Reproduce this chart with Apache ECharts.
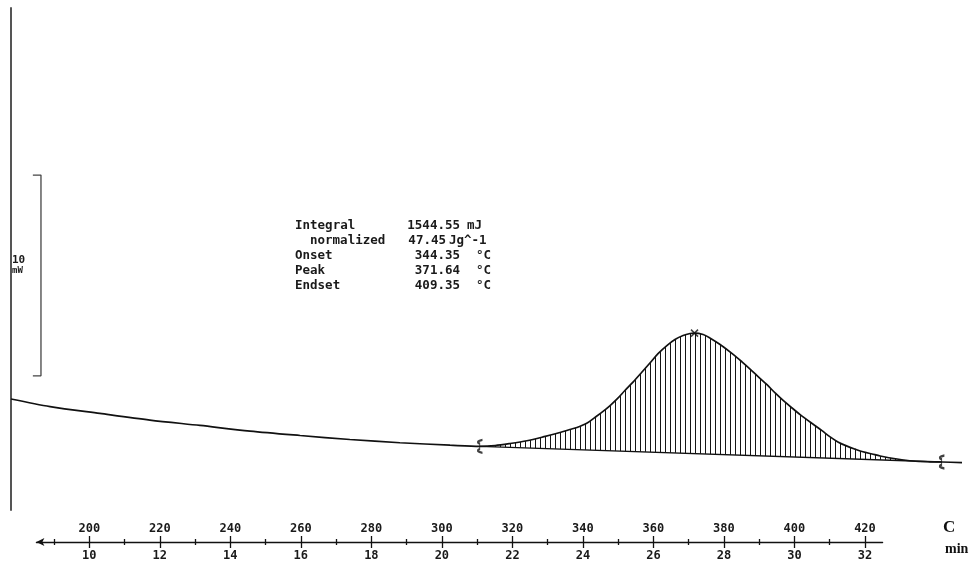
<!DOCTYPE html>
<html>
<head>
<meta charset="utf-8">
<script src="https://cdn.jsdelivr.net/npm/echarts@6/dist/echarts.min.js"></script>
<style>
  html, body { margin: 0; padding: 0; background: #fff; }
  #chart { width: 973px; height: 567px; }
</style>
</head>
<body>
<div id="chart"></div>
<script>
// DSC heating run: sample temperature (°C) against heat flow (mW, relative offset)
const temperature = [
  177.8, 188.9, 203.0, 217.2, 231.4, 245.6, 259.8, 273.9, 288.1, 302.3,
  310.8, 315.1, 319.3, 324.1, 328.7, 333.5, 336.3, 338.3, 341.2, 343.4,
  345.7, 347.7, 349.7, 351.9, 354.2, 356.5, 359.0, 361.3, 363.8, 366.1,
  368.4, 370.4, 371.6, 374.1, 376.0, 378.9, 382.6, 385.1, 387.4, 389.6,
  392.2, 394.5, 396.7, 399.3, 401.6, 405.2, 407.8, 410.1, 412.3, 414.9,
  417.2, 419.4, 422.0, 424.3, 429.1, 433.6, 438.4, 441.8, 447.5
];
const heatFlow = [
  3.13, 2.75, 2.41, 2.08, 1.81, 1.53, 1.31, 1.11, 0.95, 0.83,
  0.77, 0.81, 0.91, 1.05, 1.24, 1.46, 1.61, 1.71, 1.93, 2.21,
  2.51, 2.80, 3.13, 3.55, 3.97, 4.42, 4.92, 5.39, 5.79, 6.09,
  6.29, 6.39, 6.41, 6.34, 6.17, 5.84, 5.35, 4.98, 4.62, 4.26,
  3.84, 3.43, 3.07, 2.68, 2.35, 1.88, 1.55, 1.24, 0.99, 0.78,
  0.63, 0.50, 0.39, 0.29, 0.14, 0.04, 0.00, -0.01, -0.04
];

// Integration limits (straight baseline between them)
const baselineT = [310.8, 441.8];
const baselineQ = [0.77, -0.01];

// Peak maximum
const peakT = 371.64;
const peakQ = 6.41;

// 10 mW scale bar
const scaleBarT = [184.0, 186.3, 186.3, 184.0];
const scaleBarQ = [14.28, 14.28, 4.28, 4.28];

// Axis ticks: temperature above the line, elapsed time below
const tempTicks = [200, 220, 240, 260, 280, 300, 320, 340, 360, 380, 400, 420];
const tempMinor = [190, 210, 230, 250, 270, 290, 310, 330, 350, 370, 390, 410];
const minuteTicks = [10, 12, 14, 16, 18, 20, 22, 24, 26, 28, 30, 32];
const minuteMinor = [9, 11, 13, 15, 17, 19, 21, 23, 25, 27, 29, 31];

// Evaluation results
const resultNames = ['Integral', 'normalized', 'Onset', 'Peak', 'Endset'];
const resultValues = ['1544.55', '47.45', '344.35', '371.64', '409.35'];
const resultUnits = ['mJ', 'Jg^-1', '°C', '°C', '°C'];

const curve = temperature.map((t, i) => [t, heatFlow[i]]);
const peakRegion = curve.filter(p => p[0] >= baselineT[0] && p[0] <= baselineT[1]);
const baseline = baselineT.map((t, i) => [t, baselineQ[i]]);
const scaleBar = scaleBarT.map((t, i) => [t, scaleBarQ[i]]);

// vertical hatching used to shade the integrated area
const hatch = document.createElement('canvas');
hatch.width = 5; hatch.height = 4;
const hctx = hatch.getContext('2d');
hctx.fillStyle = '#151515';
hctx.fillRect(0, 0, 1, 4);

const mono = '"DejaVu Sans Mono", "Liberation Mono", monospace';
const ink = '#111';
const smooth = 0.3;
const tickLine = { color: ink, width: 1.3 };
const labelFont = { color: '#1a1a1a', fontFamily: mono, fontWeight: 'bold', fontSize: 12 };
const boxFont = 'bold 12.5px ' + mono;

const chart = echarts.init(document.getElementById('chart'), null, { renderer: 'canvas' });

const nameX = [295, 310, 295, 295, 295];
const valueRight = [460, 446, 460, 460, 460];
const unitX = [467, 449, 476, 476, 476];
const rowY = [226, 241, 256, 271, 286];

const graphics = [];
resultNames.forEach((n, i) => {
  graphics.push({ type: 'text', x: nameX[i], y: rowY[i],
    style: { text: n, font: boxFont, fill: '#1a1a1a', align: 'left', verticalAlign: 'middle' } });
  graphics.push({ type: 'text', x: valueRight[i], y: rowY[i],
    style: { text: resultValues[i], font: boxFont, fill: '#1a1a1a', align: 'right', verticalAlign: 'middle' } });
  graphics.push({ type: 'text', x: unitX[i], y: rowY[i],
    style: { text: resultUnits[i], font: boxFont, fill: '#1a1a1a', align: 'left', verticalAlign: 'middle' } });
});
graphics.push({ type: 'text', x: 12, y: 260,
  style: { text: '10', font: 'bold 11px ' + mono, fill: '#1a1a1a', verticalAlign: 'middle' } });
graphics.push({ type: 'text', x: 12, y: 271,
  style: { text: 'mW', font: 'bold 9px ' + mono, fill: '#1a1a1a', verticalAlign: 'middle' } });
graphics.push({ type: 'text', x: 943, y: 528,
  style: { text: 'C', font: 'bold 17px "Liberation Serif", serif', fill: '#111', verticalAlign: 'middle' } });
graphics.push({ type: 'text', x: 945, y: 549,
  style: { text: 'min', font: 'bold 14px "Liberation Serif", serif', fill: '#111', verticalAlign: 'middle' } });

const option = {
  animation: false,
  backgroundColor: '#fff',
  grid: [
    { left: 11, top: 8, width: 951, height: 502 },
    { left: 36.4, top: 542, width: 846.2, height: 0 }
  ],
  xAxis: [
    { gridIndex: 0, type: 'value', min: 177.8, max: 447.5, show: false },
    {
      gridIndex: 1, type: 'value', position: 'top', min: 185, max: 425,
      axisLine: { show: true, onZero: false, lineStyle: tickLine, symbol: ['arrow', 'none'], symbolSize: [6, 8] },
      axisTick: { show: true, customValues: tempTicks, length: 6, lineStyle: tickLine },
      axisLabel: Object.assign({ customValues: tempTicks, margin: 7 }, labelFont),
      splitLine: { show: false }
    },
    {
      gridIndex: 1, type: 'value', position: 'bottom', min: 8.5, max: 32.5,
      axisLine: { show: false, onZero: false },
      axisTick: { show: true, customValues: minuteTicks, length: 6, lineStyle: tickLine },
      axisLabel: Object.assign({ customValues: minuteTicks, margin: 8 }, labelFont),
      splitLine: { show: false }
    },
    {
      gridIndex: 1, type: 'value', position: 'top', min: 185, max: 425,
      axisLine: { show: false, onZero: false },
      axisTick: { show: true, customValues: tempMinor, length: 3, lineStyle: tickLine },
      axisLabel: { show: false }, splitLine: { show: false }
    },
    {
      gridIndex: 1, type: 'value', position: 'bottom', min: 8.5, max: 32.5,
      axisLine: { show: false, onZero: false },
      axisTick: { show: true, customValues: minuteMinor, length: 3, lineStyle: tickLine },
      axisLabel: { show: false }, splitLine: { show: false }
    }
  ],
  yAxis: [
    {
      gridIndex: 0, type: 'value', min: -2.4, max: 22.6,
      axisLine: { show: true, lineStyle: { color: '#555', width: 2 } },
      axisTick: { show: false }, axisLabel: { show: false }, splitLine: { show: false }
    },
    { gridIndex: 1, type: 'value', show: false }
  ],
  graphic: graphics,
  series: [
    {
      type: 'line', xAxisIndex: 0, yAxisIndex: 0, data: peakRegion, showSymbol: false, silent: true,
      smooth: smooth,
      lineStyle: { width: 0 },
      areaStyle: { color: { image: hatch, repeat: 'repeat' }, opacity: 1, origin: 'start' },
      z: 1
    },
    {
      type: 'line', xAxisIndex: 0, yAxisIndex: 0, data: baseline, showSymbol: false, silent: true,
      lineStyle: { color: ink, width: 1.3 },
      areaStyle: { color: '#fff', opacity: 1, origin: 'start' },
      z: 2
    },
    {
      type: 'line', xAxisIndex: 0, yAxisIndex: 0, data: curve, showSymbol: false, silent: true,
      smooth: smooth,
      lineStyle: { color: ink, width: 1.7 },
      z: 3
    },
    {
      type: 'scatter', xAxisIndex: 0, yAxisIndex: 0, data: baseline, silent: true,
      symbol: 'path://M4,0 Q1,2 3,4 L3,10 Q1,12 4,14', symbolSize: [5, 13],
      itemStyle: { color: 'none', borderColor: ink, borderWidth: 1.5 },
      z: 4
    },
    {
      type: 'scatter', xAxisIndex: 0, yAxisIndex: 0, data: [[peakT, peakQ]], silent: true,
      symbol: 'path://M0,0 L10,10 M10,0 L0,10', symbolSize: 7,
      itemStyle: { color: 'none', borderColor: ink, borderWidth: 1.5 },
      z: 4
    },
    {
      type: 'line', xAxisIndex: 0, yAxisIndex: 0, data: scaleBar, showSymbol: false, silent: true,
      lineStyle: { color: '#444', width: 1.3 },
      z: 4
    }
  ]
};
chart.setOption(option);
</script>
</body>
</html>
